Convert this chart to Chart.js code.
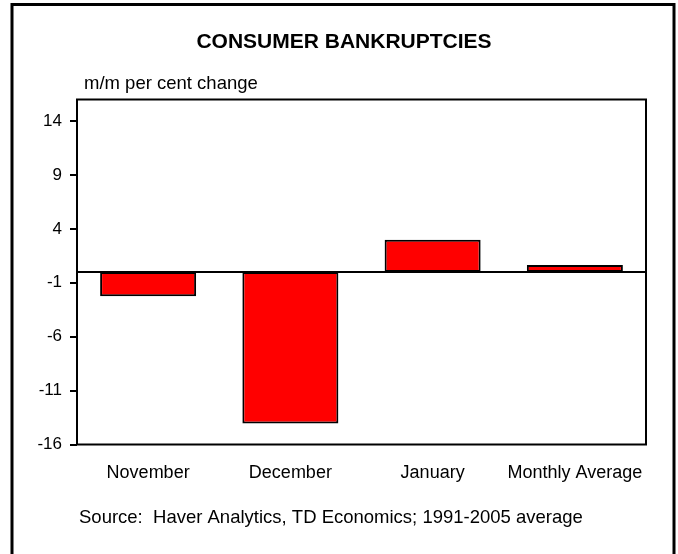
<!DOCTYPE html>
<html>
<head>
<meta charset="utf-8">
<script src="https://cdn.jsdelivr.net/npm/chart.js@4/dist/chart.umd.min.js"></script>
<style>
  html, body { margin: 0; padding: 0; background: #fff; }
  #wrap { width: 678px; height: 554px; }
</style>
</head>
<body>
<div id="wrap"><canvas id="my_chart" width="678" height="554"></canvas></div>
<script>
// data
var categories = ['November', 'December', 'January', 'Monthly Average'];
var pct_change = [-2.25, -14.05, 3.0, 0.65];
var y_ticks = [-16, -11, -6, -1, 4, 9, 14];
var chart_title = 'CONSUMER BANKRUPTCIES';
var unit_label = 'm/m per cent change';
var source_note = 'Source:  Haver Analytics, TD Economics; 1991-2005 average';

var FONT = '"Liberation Sans", Arial, sans-serif';

// frame, title, unit label, plot border, zero line, source
var decorations = {
  id: 'decorations',
  beforeDraw: function(chart) {
    var c = chart.ctx;
    c.save();
    c.fillStyle = '#fff';
    c.fillRect(0, 0, chart.width, chart.height);
    c.strokeStyle = '#000';
    c.lineWidth = 3;
    c.strokeRect(12, 4.5, 662, 620);
    c.restore();
  },
  afterDatasetsDraw: function(chart) {
    var c = chart.ctx;
    var a = chart.chartArea;
    var y = chart.scales.y;
    c.save();
    c.strokeStyle = '#000';
    c.lineWidth = 2;
    var y0 = y.getPixelForValue(0);
    c.beginPath();
    c.moveTo(a.left, y0);
    c.lineTo(a.right, y0);
    c.stroke();
    c.strokeRect(a.left, a.top, a.right - a.left, a.bottom - a.top);
    c.restore();
  },
  afterDraw: function(chart) {
    var c = chart.ctx;
    c.save();
    c.fillStyle = '#000';
    c.textBaseline = 'alphabetic';
    c.font = 'bold 21px ' + FONT;
    c.textAlign = 'center';
    c.fillText(chart_title, 344, 48);
    c.font = '18.5px ' + FONT;
    c.textAlign = 'left';
    c.fillText(unit_label, 84, 89);
    c.fillText(source_note, 79, 523);
    c.restore();
  }
};

var ctx = document.getElementById('my_chart');
var my_chart = new Chart(ctx, {
  type: 'bar',
  data: {
    labels: categories,
    datasets: [{
      label: 'm/m per cent change',
      data: pct_change,
      backgroundColor: '#ff0000',
      borderColor: '#000',
      borderWidth: 2,
      borderSkipped: false,
      categoryPercentage: 0.675,
      barPercentage: 1.0
    }]
  },
  plugins: [decorations],
  options: {
    responsive: false,
    animation: false,
    devicePixelRatio: 1,
    layout: { padding: { left: 0, right: 32, top: 99.5, bottom: 0 } },
    plugins: {
      legend: { display: false },
      title: { display: false },
      tooltip: { enabled: false }
    },
    scales: {
      x: {
        grid: { display: false, drawTicks: false },
        border: { display: false },
        ticks: {
          color: '#000',
          padding: 18,
          font: { family: FONT, size: 18 }
        },
        afterFit: function(scale) { scale.height = 109.5; }
      },
      y: {
        min: -16,
        max: 16,
        afterBuildTicks: function(axis) {
          axis.ticks = y_ticks.map(function(v) { return { value: v }; });
        },
        grid: {
          drawOnChartArea: false,
          drawTicks: true,
          tickLength: 7,
          color: '#000',
          lineWidth: 2
        },
        border: { display: false },
        ticks: {
          color: '#000',
          padding: 8,
          font: { family: FONT, size: 17 }
        },
        afterFit: function(scale) { scale.width = 77; }
      }
    }
  }
});
</script>
</body>
</html>
